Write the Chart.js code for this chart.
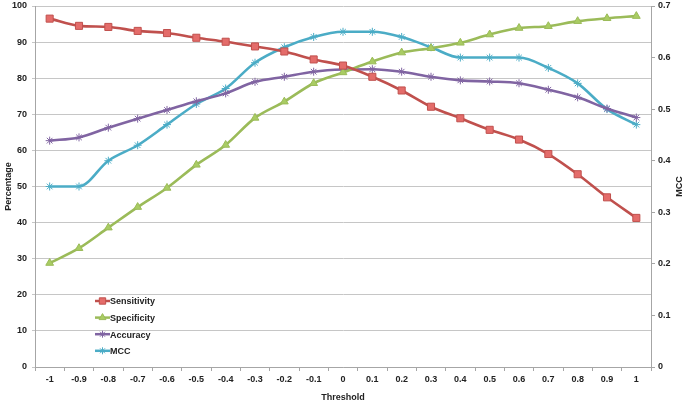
<!DOCTYPE html>
<html>
<head>
<meta charset="utf-8">
<script src="https://cdn.jsdelivr.net/npm/chart.js@4/dist/chart.umd.min.js"></script>
<style>
  html, body { margin: 0; padding: 0; background: #fff; }
  #wrap { width: 685px; height: 403px; }
</style>
</head>
<body>
<div id="wrap"><canvas id="chart"></canvas></div>
<script>
// Data
const thresholds = ["-1", "-0.9", "-0.8", "-0.7", "-0.6", "-0.5", "-0.4", "-0.3", "-0.2", "-0.1",
                    "0", "0.1", "0.2", "0.3", "0.4", "0.5", "0.6", "0.7", "0.8", "0.9", "1"];
const sensitivity = [96.5, 94.5, 94.2, 93.1, 92.5, 91.2, 90.1, 88.8, 87.4, 85.2,
                     83.5, 80.4, 76.6, 72.1, 68.9, 65.7, 63.0, 59.0, 53.4, 47.0, 41.3];
const specificity = [28.8, 32.9, 38.6, 44.3, 49.6, 56.0, 61.5, 69.0, 73.5, 78.6,
                     81.6, 84.6, 87.1, 88.3, 89.8, 92.1, 93.9, 94.4, 95.8, 96.6, 97.2];
const accuracy    = [62.7, 63.6, 66.3, 68.8, 71.2, 73.6, 75.8, 79.0, 80.4, 81.8,
                     82.4, 82.5, 81.8, 80.4, 79.4, 79.1, 78.6, 76.8, 74.7, 71.6, 69.1];
const mcc         = [0.35, 0.35, 0.40, 0.43, 0.47, 0.51, 0.54, 0.59, 0.62, 0.64,
                     0.65, 0.65, 0.64, 0.62, 0.60, 0.60, 0.60, 0.58, 0.55, 0.50, 0.47];
const leftTicks = { min: 0, max: 100, step: 10 };
const rightTicks = { min: 0, max: 0.7, step: 0.1 };

const FONT = "'Liberation Sans', Arial, sans-serif";
const TEXT = "#222";

// Legend drawn inside the plot area, bottom left
const insideLegend = {
    id: "insideLegend",
    afterDraw(chart) {
        const ctx = chart.ctx;
        const x0 = 95, y0 = 301, gap = 16.6;
        ctx.save();
        ctx.font = "bold 9px " + FONT;
        ctx.textBaseline = "middle";
        chart.data.datasets.forEach((ds, i) => {
            const y = y0 + i * gap;
            ctx.strokeStyle = ds.borderColor;
            ctx.lineWidth = 2.5;
            ctx.beginPath();
            ctx.moveTo(x0, y);
            ctx.lineTo(x0 + 15, y);
            ctx.stroke();
            ctx.fillStyle = ds.pointBackgroundColor;
            ctx.strokeStyle = ds.pointBorderColor;
            ctx.lineWidth = 1;
            Chart.helpers.drawPoint(ctx, {
                pointStyle: ds.pointStyle,
                radius: ds.pointRadius - 0.5,
                borderWidth: 1
            }, x0 + 7.5, y);
            ctx.fillStyle = TEXT;
            ctx.textAlign = "left";
            ctx.fillText(ds.label, x0 + 15, y + 1);
        });
        // right axis title, reading bottom to top
        const yr = chart.scales.y1;
        ctx.translate(680, (yr.top + yr.bottom) / 2);
        ctx.rotate(-Math.PI / 2);
        ctx.textAlign = "center";
        ctx.font = "bold 9px " + FONT;
        ctx.fillText("MCC", 0, 0);
        ctx.restore();
    }
};

function lineSet(label, data, color, fill, style, radius, axis) {
    return {
        label: label,
        data: data,
        yAxisID: axis,
        borderColor: color,
        backgroundColor: fill,
        pointBackgroundColor: fill,
        pointBorderColor: color,
        pointStyle: style,
        pointRadius: radius,
        pointBorderWidth: 1,
        borderWidth: 2.6,
        cubicInterpolationMode: "monotone",
        fill: false
    };
}

// keep the plot area close to the top edge, as in the picture
function fitLeft(s) { s.width = 35; s.paddingTop = 0; s.paddingBottom = 0; }
function fitRight(s) { s.width = 34; s.paddingTop = 0; s.paddingBottom = 0; }

new Chart(document.getElementById("chart"), {
    type: "line",
    data: {
        labels: thresholds,
        datasets: [
            lineSet("Sensitivity", sensitivity, "#c0504d", "#e46c6a", "rect", 5, "y"),
            lineSet("Specificity", specificity, "#9bbb59", "#a9cc63", "triangle", 4.5, "y"),
            lineSet("Accuracy", accuracy, "#8064a2", "#8064a2", "star", 4, "y"),
            lineSet("MCC", mcc, "#4bacc6", "#4bacc6", "star", 4, "y1")
        ]
    },
    options: {
        responsive: true,
        maintainAspectRatio: false,
        animation: false,
        layout: { padding: { top: 4, right: 0, left: 0, bottom: 0 } },
        plugins: {
            legend: { display: false },
            tooltip: { enabled: false }
        },
        scales: {
            x: {
                type: "category",
                offset: true,
                afterFit: s => { s.height = 36; s.paddingLeft = 0; s.paddingRight = 0; },
                grid: { drawOnChartArea: false, offset: true, tickLength: 4, color: "#a6a6a6" },
                border: { color: "#a6a6a6" },
                ticks: { color: TEXT, font: { family: FONT, size: 9, weight: "bold" }, padding: 3, maxRotation: 0, autoSkip: false },
                title: { display: true, text: "Threshold", color: TEXT, font: { family: FONT, size: 9, weight: "bold" }, padding: { top: 0, bottom: 0 } }
            },
            y: {
                position: "left",
                min: leftTicks.min,
                max: leftTicks.max,
                afterFit: fitLeft,
                ticks: { stepSize: leftTicks.step, color: TEXT, font: { family: FONT, size: 9, weight: "bold" }, padding: 5 },
                grid: { color: "#c6c6c6", tickLength: 3, lineWidth: 1 },
                border: { color: "#a6a6a6" },
                title: { display: true, text: "Percentage", color: TEXT, font: { family: FONT, size: 9, weight: "bold" }, padding: { top: 3, bottom: 0 } }
            },
            y1: {
                position: "right",
                min: rightTicks.min,
                max: rightTicks.max,
                afterFit: fitRight,
                ticks: { stepSize: rightTicks.step, color: TEXT, font: { family: FONT, size: 9, weight: "bold" }, padding: 3 },
                grid: { drawOnChartArea: false, tickLength: 4, color: "#a6a6a6" },
                border: { color: "#a6a6a6" }
            }
        }
    },
    plugins: [insideLegend]
});
</script>
</body>
</html>
